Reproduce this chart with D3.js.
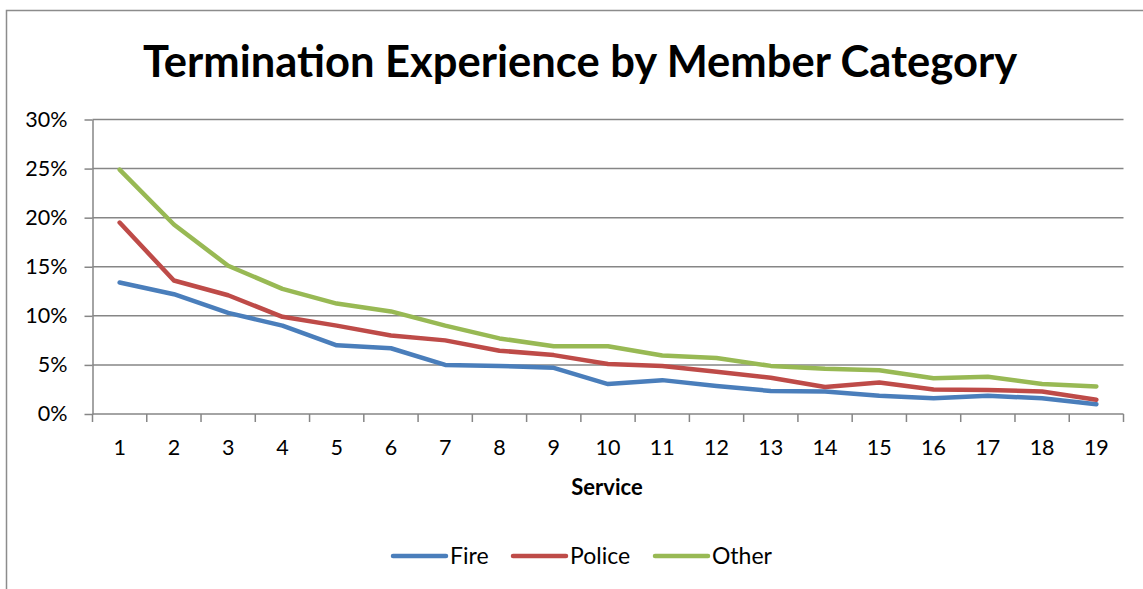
<!DOCTYPE html>
<html>
<head>
<meta charset="utf-8">
<script src="https://cdn.jsdelivr.net/npm/d3@7"></script>
<style>
  html, body { margin: 0; padding: 0; background: #fff; }
  svg { display: block; font-family: Lato, "Open Sans", sans-serif; }
</style>
</head>
<body>
<svg id="chart" width="1143" height="589"></svg>
<script>
// Years of service on the x axis
const service = [1,2,3,4,5,6,7,8,9,10,11,12,13,14,15,16,17,18,19];
// Termination rates (percent) by member category
const fire   = [13.4,12.2,10.3,9.0,7.0,6.7,5.0,4.9,4.7,3.05,3.45,2.85,2.35,2.3,1.85,1.6,1.85,1.6,1.0];
const police = [19.5,13.6,12.1,9.9,9.0,8.0,7.5,6.45,6.0,5.1,4.9,4.3,3.7,2.75,3.2,2.5,2.45,2.3,1.45];
const other  = [24.9,19.3,15.1,12.75,11.25,10.45,9.0,7.7,6.9,6.9,5.95,5.7,4.9,4.6,4.45,3.65,3.8,3.05,2.8];
const yTicks = [0,5,10,15,20,25,30];
const seriesNames = ["Fire","Police","Other"];
const seriesColors = ["#4A7EBB","#BE4B48","#98B954"];

const series = [fire, police, other].map((vals, i) => ({
  name: seriesNames[i], color: seriesColors[i],
  points: vals.map((v, j) => ({ x: service[j], y: v }))
}));

const svg = d3.select("#chart");
const grey = "#868686";

// outer chart frame
svg.append("rect")
  .attr("x", 6.5).attr("y", 10.5).attr("width", 1200).attr("height", 700)
  .attr("fill", "none").attr("stroke", "#8c8c8c").attr("stroke-width", 1.5);

const plotLeft = 92.5, plotRight = 1123.5, plotTop = 119.5, plotBottom = 414;

const x = d3.scaleBand().domain(service).range([plotLeft, plotRight]);
const y = d3.scaleLinear().domain([0, 30]).range([plotBottom, plotTop]);

// title
svg.append("text")
  .attr("x", 580).attr("y", 77)
  .attr("text-anchor", "middle")
  .attr("font-weight", "bold").attr("font-size", 43.5)
  .attr("fill", "#000")
  .text("Termination Experience by Member Category");

// horizontal gridlines
svg.append("g").selectAll("line").data(yTicks.filter(d => d > 0)).join("line")
  .attr("x1", plotLeft).attr("x2", plotRight)
  .attr("y1", d => y(d)).attr("y2", d => y(d))
  .attr("stroke", grey).attr("stroke-width", 1.5);

// y axis
const yAxis = svg.append("g")
  .attr("transform", `translate(${plotLeft},0)`)
  .call(d3.axisLeft(y).tickValues(yTicks).tickFormat(d => d + "%").tickSize(8).tickSizeOuter(0));
yAxis.select(".domain").attr("stroke", grey).attr("stroke-width", 1.5);
yAxis.selectAll(".tick line").attr("stroke", grey).attr("stroke-width", 1.5);
yAxis.selectAll(".tick text")
  .attr("x", -25).attr("font-size", 21.5).attr("fill", "#000")
  .attr("font-family", "Lato, 'Open Sans', sans-serif");

// x axis with ticks at category boundaries
const xAxisG = svg.append("g").attr("transform", `translate(0,${plotBottom})`);
xAxisG.append("line").attr("x1", plotLeft).attr("x2", plotRight)
  .attr("stroke", grey).attr("stroke-width", 1.5);
const bounds = service.map(d => x(d)).concat([plotRight]);
xAxisG.selectAll("line.tk").data(bounds).join("line").attr("class", "tk")
  .attr("x1", d => d).attr("x2", d => d).attr("y1", 0).attr("y2", 8)
  .attr("stroke", grey).attr("stroke-width", 1.5);
xAxisG.selectAll("text").data(service).join("text")
  .attr("x", d => x(d) + x.bandwidth() / 2).attr("y", 41)
  .attr("text-anchor", "middle").attr("font-size", 21.5).attr("fill", "#000")
  .text(d => d);

// x axis title
svg.append("text")
  .attr("x", 607).attr("y", 495)
  .attr("text-anchor", "middle").attr("font-weight", "bold").attr("font-size", 22)
  .text("Service");

// series lines
const line = d3.line()
  .x(d => x(d.x) + x.bandwidth() / 2)
  .y(d => y(d.y));
svg.append("g").selectAll("path").data(series).join("path")
  .attr("d", d => line(d.points))
  .attr("fill", "none")
  .attr("stroke", d => d.color)
  .attr("stroke-width", 4.5)
  .attr("stroke-linejoin", "round")
  .attr("stroke-linecap", "round");

// legend
const legendX = [393, 513, 655];
const lg = svg.append("g").selectAll("g").data(series).join("g")
  .attr("transform", (d, i) => `translate(${legendX[i]},556)`);
lg.append("line").attr("x1", 0).attr("x2", 53)
  .attr("stroke", d => d.color).attr("stroke-width", 4.5).attr("stroke-linecap", "round");
lg.append("text").attr("x", 57).attr("y", 8)
  .attr("font-size", 23).attr("fill", "#000")
  .text(d => d.name);
</script>
</body>
</html>
